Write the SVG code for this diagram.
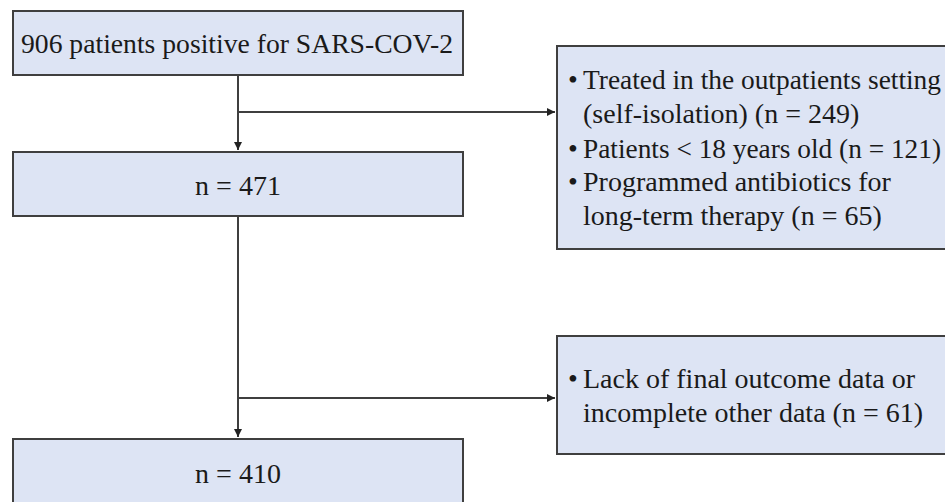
<svg xmlns="http://www.w3.org/2000/svg" width="945" height="502" viewBox="0 0 945 502">
<style>
.box{fill:#dde4f4;stroke:#3f3f3f;stroke-width:2}
.t{font-family:"Liberation Serif","Times New Roman",serif;font-size:28px;fill:#1a1a1a}
.c{text-anchor:middle}
.ln{stroke:#3f3f3f;stroke-width:2;fill:none}
</style>
<defs>
<marker id="ah" viewBox="0 0 10 10" refX="10" refY="5" markerWidth="4" markerHeight="4" orient="auto" markerUnits="strokeWidth">
<path d="M0,0 L10,5 L0,10 z" fill="#222"/>
</marker>
</defs>
<rect width="945" height="502" fill="#fff"/>
<g id="connectors">
<path class="ln" d="M238,75 V150" marker-end="url(#ah)"/>
<path class="ln" d="M238,112 H555" marker-end="url(#ah)"/>
<path class="ln" d="M238,216 V437" marker-end="url(#ah)"/>
<path class="ln" d="M238,398 H555" marker-end="url(#ah)"/>
</g>
<g id="n906">
<rect class="box" x="13" y="11" width="450" height="64"/>
<text class="t" x="21" y="53" textLength="432" lengthAdjust="spacingAndGlyphs">906 patients positive for SARS-COV-2</text>
</g>
<g id="n471">
<rect class="box" x="13" y="152" width="450" height="64"/>
<text class="t c" x="238" y="195">n = 471</text>
</g>
<g id="n410">
<rect class="box" x="13" y="439" width="450" height="70"/>
<text class="t c" x="238" y="483">n = 410</text>
</g>
<g id="excl1">
<rect class="box" x="557" y="46" width="400" height="203"/>
<text class="t" x="568" y="89">•</text>
<text class="t" x="583" y="89" textLength="358" lengthAdjust="spacingAndGlyphs">Treated in the outpatients setting</text>
<text class="t" x="583" y="123">(self-isolation) (n = 249)</text>
<text class="t" x="568" y="158">•</text>
<text class="t" x="583" y="158" textLength="358" lengthAdjust="spacingAndGlyphs">Patients &lt; 18 years old (n = 121)</text>
<text class="t" x="568" y="191">•</text>
<text class="t" x="583" y="191">Programmed antibiotics for</text>
<text class="t" x="583" y="225">long-term therapy (n = 65)</text>
</g>
<g id="excl2">
<rect class="box" x="557" y="336" width="400" height="118"/>
<text class="t" x="568" y="388">•</text>
<text class="t" x="583" y="388">Lack of final outcome data or</text>
<text class="t" x="583" y="422">incomplete other data (n = 61)</text>
</g>
</svg>
